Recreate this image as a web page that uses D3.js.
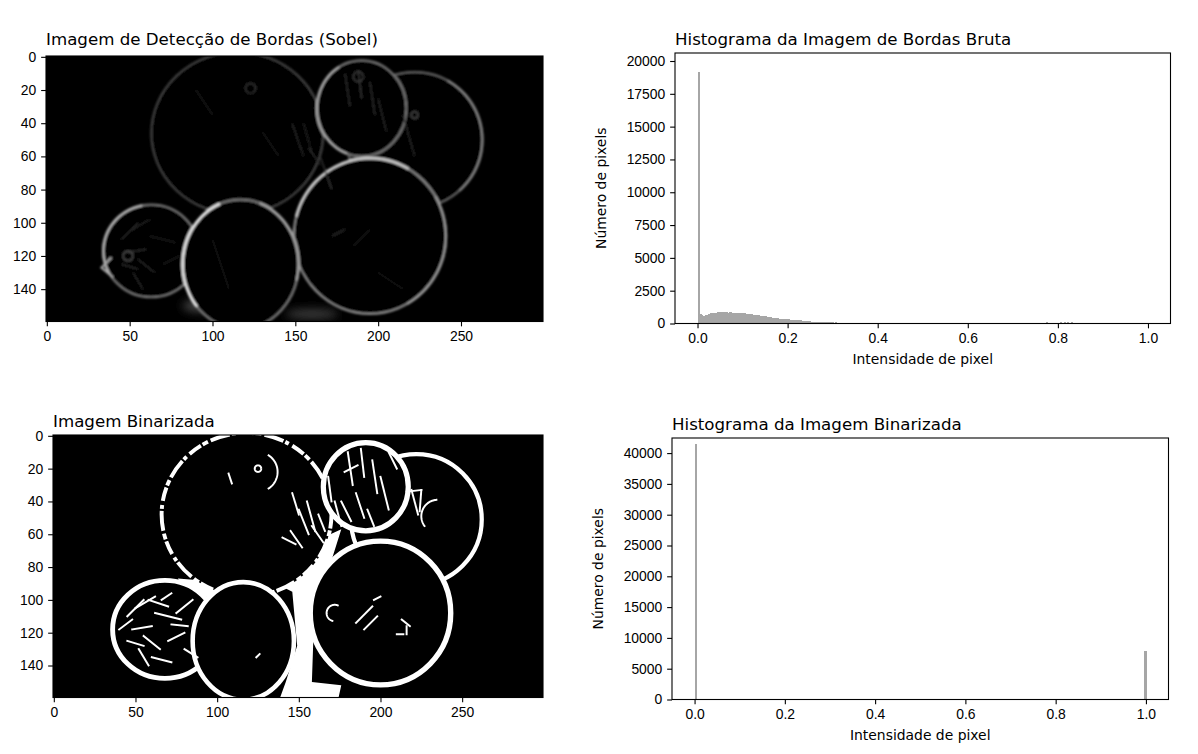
<!DOCTYPE html>
<html>
<head>
<meta charset="utf-8">
<script src="https://cdn.jsdelivr.net/npm/d3@7"></script>
<style>
  body { margin: 0; background: #fff; }
  svg { font-family: "DejaVu Sans", sans-serif; }
  .tick text { font-size: 13.9px; fill: #000; }
  .tick line { stroke: #000; stroke-width: 1.1px; }
</style>
</head>
<body>
<svg id="fig" width="1198" height="754"></svg>
<script>
'use strict';

// tick labels
var imgXTicks = [0, 50, 100, 150, 200, 250];
var imgYTicks = [0, 20, 40, 60, 80, 100, 120, 140];
var histXTicks = [0, 0.2, 0.4, 0.6, 0.8, 1.0];
var edgeYTicks = [0, 2500, 5000, 7500, 10000, 12500, 15000, 17500, 20000];
var binaryYTicks = [0, 5000, 10000, 15000, 20000, 25000, 30000, 35000, 40000];

// histogram of the raw edge image, 256 bins over [0, 1]
var edgeCounts = [
  19200, 700, 620, 600, 610, 640, 700, 800, 810, 820, 830, 840, 840, 845, 840, 845,
  840, 835, 840, 830, 825, 820, 810, 800, 790, 780, 770, 760, 740, 700, 690, 670,
  660, 640, 620, 590, 570, 560, 545, 530, 510, 470, 450, 430, 410, 395, 370, 360,
  350, 340, 330, 320, 270, 260, 250, 245, 240, 235, 230, 220, 175, 170, 165, 160,
  150, 148, 145, 142, 140, 138, 135, 130, 128, 125, 122, 120, 118, 75, 110, 70,
  68, 68, 67, 66, 66, 65, 65, 64, 64, 63, 63, 62, 62, 61, 61, 60,
  60, 60, 59, 59, 58, 58, 58, 57, 57, 56, 56, 56, 55, 55, 55, 54,
  54, 54, 53, 53, 53, 52, 52, 52, 51, 51, 51, 50, 50, 50, 49, 49,
  49, 48, 48, 48, 47, 47, 47, 46, 46, 46, 45, 45, 45, 44, 44, 44,
  43, 43, 43, 42, 42, 42, 41, 41, 41, 40, 40, 40, 39, 39, 39, 38,
  38, 38, 37, 37, 37, 36, 36, 36, 35, 35, 35, 34, 0, 0, 60, 0,
  55, 0, 60, 0, 0, 0, 70, 0, 0, 0, 0, 65, 0, 0, 0, 0,
  0, 0, 75, 0, 70, 0, 80, 0, 0, 0, 0, 0, 0, 0, 90, 0,
  85, 0, 95, 0, 80, 0, 0, 75, 0, 0, 0, 0, 0, 60, 0, 0,
  0, 0, 55, 0, 0, 0, 0, 0, 0, 0, 0, 0, 0, 0, 0, 0,
  50, 0, 0, 0, 0, 0, 0, 0, 0, 0, 0, 0, 0, 0, 0, 0
];

// histogram of the binarized image (only two bins are filled)
var binaryBins = [0, 255];
var binaryCounts = [41500, 7880];

// fruit outlines in image pixels: cx, cy, rx, ry, grey, width  (back to front)
var sobelOutlines = [
  [115, 46, 52, 49, 70, 1.1],
  [222, 50, 41, 41, 105, 1.1],
  [190, 31, 27, 29, 120, 1.2],
  [195, 108, 46, 47, 140, 1.3],
  [63, 117, 29, 28, 120, 1.2],
  [117, 125, 35, 39, 120, 1.3]
];
// brighter stretches of an outline: fruit index, from angle, to angle, grey, width
var sobelHighlights = [
  [5, 140, 250, 235, 1.6],
  [5, -70, 15, 170, 1.4],
  [3, 195, 300, 210, 1.5],
  [3, -30, 60, 160, 1.3],
  [2, 110, 240, 175, 1.3],
  [4, 150, 260, 185, 1.4],
  [1, -60, 50, 140, 1.2]
];
// faint inner texture: x1, y1, x2, y2, grey
var sobelTexture = [
  [45, 110, 55, 100, 45], [50, 105, 62, 98, 40], [62, 108, 78, 112, 35], [48, 118, 60, 116, 50],
  [45, 125, 55, 128, 45], [55, 122, 65, 130, 40], [70, 125, 80, 120, 35], [52, 130, 58, 140, 40],
  [180, 10, 183, 30, 45], [188, 8, 190, 25, 55], [195, 15, 198, 35, 45], [200, 25, 205, 45, 40],
  [148, 40, 155, 60, 40], [155, 40, 160, 58, 35], [158, 55, 165, 65, 45], [165, 60, 172, 80, 55],
  [172, 108, 180, 104, 45], [185, 114, 195, 104, 32], [90, 20, 100, 35, 28], [130, 45, 140, 60, 28],
  [215, 35, 222, 60, 40], [100, 110, 110, 140, 25], [200, 130, 215, 140, 25]
];
// small rings: cx, cy, r, grey
var sobelRings = [[123, 19, 3, 55], [222, 35, 2, 75], [188, 12, 3, 60], [49, 120, 3, 80]];
// soft shading under the fruit: cx, cy, rx, ry, grey
var sobelShadows = [[92, 150, 10, 3.5, 75], [160, 155, 16, 3, 60], [118, 90, 8, 3, 45]];
var sobelTips = [[[39, 121], [33, 127], [40, 133]]];

// binarized image: cx, cy, rx, ry, width, dash
var binaryOutlines = [
  [118, 48, 52, 50, 2.4, '14 2 6 3 20 2 4 4'],
  [222, 51, 40, 40, 2.6, ''],
  [191, 31, 26, 27, 3.2, ''],
  [200, 108, 43, 44, 3.3, ''],
  [68, 118, 32, 30, 3.0, ''],
  [116, 125, 31, 36, 2.8, '']
];
var binaryGaps = [
  [[132, 88], [150, 82], [165, 62], [176, 57], [170, 76], [160, 92], [158, 150], [176, 152], [174, 161], [138, 161], [142, 150], [149, 128], [146, 95]],
  [[76, 87], [100, 89], [110, 94], [102, 101], [90, 97], [80, 95]]
];
var binarySegments = [
  [45, 110, 55, 100], [50, 105, 62, 98], [58, 100, 70, 104], [62, 108, 78, 112], [48, 118, 60, 116],
  [45, 125, 55, 128], [55, 122, 65, 130], [60, 135, 72, 138], [70, 125, 80, 120], [75, 108, 85, 100],
  [52, 130, 58, 140], [40, 118, 48, 112], [66, 100, 72, 96], [80, 130, 88, 135], [72, 115, 82, 116],
  [180, 10, 183, 30], [188, 8, 190, 25], [195, 15, 198, 35], [185, 35, 190, 50], [200, 25, 205, 45],
  [176, 40, 182, 52], [192, 45, 196, 55], [205, 10, 210, 20], [178, 22, 186, 18],
  [219, 33, 223, 48], [216, 34, 225, 33], [225, 33, 224, 46],
  [146, 35, 150, 48], [150, 45, 156, 60], [155, 40, 160, 58], [158, 55, 165, 65], [145, 58, 152, 68],
  [140, 62, 148, 66], [162, 48, 166, 58], [168, 25, 170, 40], [172, 40, 176, 55], [107, 23, 109, 29],
  [185, 114, 195, 104], [190, 118, 198, 110], [196, 100, 200, 98], [213, 112, 218, 116],
  [216, 116, 216, 121], [210, 121, 214, 121], [124, 135, 126, 133]
];
// cx, cy, r, from angle, to angle
var binaryArcs = [[235, 49, 10, 140, 270], [125, 22, 12, -60, 60], [172, 108, 5, 100, 300], [125, 20, 2, 0, 360]];

var svg = d3.select('#fig');
var defs = svg.append('defs');
defs.append('filter').attr('id', 'soft')
  .append('feGaussianBlur').attr('stdDeviation', 0.8);
defs.append('filter').attr('id', 'haze').attr('x', '-50%').attr('y', '-50%')
  .attr('width', '200%').attr('height', '200%')
  .append('feGaussianBlur').attr('stdDeviation', 5);

function grey(v) { return d3.rgb(v, v, v).toString(); }

function title(box, text, base) {
  svg.append('text').attr('x', box.x0).attr('y', base)
    .style('font-size', '16.67px').text(text);
}

function frame(box) {
  svg.append('rect').attr('x', box.x0).attr('y', box.y0)
    .attr('width', box.x1 - box.x0).attr('height', box.y1 - box.y0)
    .attr('fill', 'none').attr('stroke', '#000').attr('stroke-width', 1.1);
}

function imagePanel(box, text, base, id) {
  var x = d3.scaleLinear().domain([-0.5, 299.5]).range([box.x0, box.x1]);
  var y = d3.scaleLinear().domain([-0.5, 159.5]).range([box.y0, box.y1]);
  defs.append('clipPath').attr('id', id).append('rect')
    .attr('x', box.x0).attr('y', box.y0)
    .attr('width', box.x1 - box.x0).attr('height', box.y1 - box.y0);
  var g = svg.append('g').attr('clip-path', 'url(#' + id + ')');
  g.append('rect').attr('x', box.x0).attr('y', box.y0)
    .attr('width', box.x1 - box.x0).attr('height', box.y1 - box.y0).attr('fill', '#000');
  svg.append('g').attr('transform', 'translate(0,' + box.y1 + ')')
    .call(d3.axisBottom(x).tickValues(imgXTicks).tickSize(4.86).tickPadding(4.86).tickSizeOuter(0))
    .call(function(a) { a.select('.domain').remove(); });
  svg.append('g').attr('transform', 'translate(' + box.x0 + ',0)')
    .call(d3.axisLeft(y).tickValues(imgYTicks).tickSize(4.86).tickPadding(4.86).tickSizeOuter(0))
    .call(function(a) { a.select('.domain').remove(); });
  frame(box);
  title(box, text, base);
  return { g: g, x: x, y: y, k: (box.x1 - box.x0) / 300 };
}

function histPanel(box, text, base, ymax, yTicks, bins, counts) {
  var x = d3.scaleLinear().domain([-0.05, 1.05]).range([box.x0, box.x1]);
  var y = d3.scaleLinear().domain([0, ymax]).range([box.y1, box.y0]);
  var data = bins.map(function(b, i) { return { b: b, c: counts[i] }; })
    .filter(function(d) { return d.c > 0; });
  // bars are about 1.8 px wide: draw them unsmoothed and a touch wider so no seams show
  svg.append('g').attr('shape-rendering', 'crispEdges')
    .selectAll('rect').data(data).enter().append('rect')
    .attr('x', function(d) { return x(d.b / 256); })
    .attr('width', function(d) { return x((d.b + 1) / 256) - x(d.b / 256) + 0.6; })
    .attr('y', function(d) { return y(d.c); })
    .attr('height', function(d) { return y(0) - y(d.c); })
    .attr('fill', '#a6a6a6');
  svg.append('g').attr('transform', 'translate(0,' + box.y1 + ')')
    .call(d3.axisBottom(x).tickValues(histXTicks).tickFormat(d3.format('.1f'))
      .tickSize(4.86).tickPadding(4.86).tickSizeOuter(0))
    .call(function(a) { a.select('.domain').remove(); });
  svg.append('g').attr('transform', 'translate(' + box.x0 + ',0)')
    .call(d3.axisLeft(y).tickValues(yTicks).tickFormat(d3.format('d'))
      .tickSize(4.86).tickPadding(4.86).tickSizeOuter(0))
    .call(function(a) { a.select('.domain').remove(); });
  frame(box);
  title(box, text, base);
  svg.append('text').attr('text-anchor', 'middle')
    .attr('x', (box.x0 + box.x1) / 2).attr('y', box.y1 + 40)
    .style('font-size', '13.9px').text('Intensidade de pixel');
  svg.append('text').attr('text-anchor', 'middle')
    .attr('transform', 'translate(' + (box.x0 - 69) + ',' + ((box.y0 + box.y1) / 2) + ') rotate(-90)')
    .style('font-size', '13.9px').text('Número de pixels');
}

function arcLine(ax, cx, cy, rx, ry, a0, a1) {
  var pts = d3.range(a0, a1 + 0.1, 3).map(function(a) {
    var t = a * Math.PI / 180;
    return [cx + rx * Math.cos(t), cy + ry * Math.sin(t)];
  });
  return d3.line().x(function(d) { return ax.x(d[0]); })
    .y(function(d) { return ax.y(d[1]); })(pts);
}

// --- Sobel edge image
var sob = imagePanel({ x0: 46, x1: 543, y0: 56, y1: 321.5 },
                     'Imagem de Detecção de Bordas (Sobel)', 45, 'clipSobel');
sob.g.append('g').attr('filter', 'url(#haze)').selectAll('ellipse')
  .data(sobelShadows).enter().append('ellipse')
  .attr('cx', function(d) { return sob.x(d[0]); }).attr('cy', function(d) { return sob.y(d[1]); })
  .attr('rx', function(d) { return d[2] * sob.k; }).attr('ry', function(d) { return d[3] * sob.k; })
  .attr('fill', function(d) { return grey(d[4]); });
var sg = sob.g.append('g').attr('filter', 'url(#soft)');
sg.selectAll('ellipse.fruit').data(sobelOutlines).enter().append('ellipse')
  .attr('class', 'fruit')
  .attr('cx', function(d) { return sob.x(d[0]); }).attr('cy', function(d) { return sob.y(d[1]); })
  .attr('rx', function(d) { return d[2] * sob.k; }).attr('ry', function(d) { return d[3] * sob.k; })
  .attr('fill', '#000').attr('stroke', function(d) { return grey(d[4]); })
  .attr('stroke-width', function(d) { return d[5] * sob.k; });
sg.selectAll('path.hl').data(sobelHighlights).enter().append('path')
  .attr('class', 'hl')
  .attr('d', function(d) {
    var f = sobelOutlines[d[0]];
    return arcLine(sob, f[0], f[1], f[2], f[3], d[1], d[2]);
  })
  .attr('fill', 'none').attr('stroke', function(d) { return grey(d[3]); })
  .attr('stroke-width', function(d) { return d[4] * sob.k; }).attr('stroke-linecap', 'round');
sg.selectAll('line').data(sobelTexture).enter().append('line')
  .attr('x1', function(d) { return sob.x(d[0]); }).attr('y1', function(d) { return sob.y(d[1]); })
  .attr('x2', function(d) { return sob.x(d[2]); }).attr('y2', function(d) { return sob.y(d[3]); })
  .attr('stroke', function(d) { return grey(d[4]); }).attr('stroke-width', sob.k * 0.8);
sg.selectAll('circle').data(sobelRings).enter().append('circle')
  .attr('cx', function(d) { return sob.x(d[0]); }).attr('cy', function(d) { return sob.y(d[1]); })
  .attr('r', function(d) { return d[2] * sob.k; })
  .attr('fill', 'none').attr('stroke', function(d) { return grey(d[3]); }).attr('stroke-width', sob.k * 0.8);
sg.selectAll('path.tip').data(sobelTips).enter().append('path')
  .attr('class', 'tip')
  .attr('d', d3.line().x(function(d) { return sob.x(d[0]); }).y(function(d) { return sob.y(d[1]); }))
  .attr('fill', 'none').attr('stroke', grey(170)).attr('stroke-width', 1.3 * sob.k);

// --- binarized image
var bin = imagePanel({ x0: 53, x1: 543, y0: 435, y1: 697.5 },
                     'Imagem Binarizada', 427, 'clipBinary');
bin.g.selectAll('path.gap').data(binaryGaps).enter().append('path')
  .attr('class', 'gap')
  .attr('d', function(d) {
    return d3.line().x(function(p) { return bin.x(p[0]); }).y(function(p) { return bin.y(p[1]); })(d) + 'Z';
  })
  .attr('fill', '#fff');
bin.g.selectAll('ellipse').data(binaryOutlines).enter().append('ellipse')
  .attr('cx', function(d) { return bin.x(d[0]); }).attr('cy', function(d) { return bin.y(d[1]); })
  .attr('rx', function(d) { return d[2] * bin.k; }).attr('ry', function(d) { return d[3] * bin.k; })
  .attr('fill', '#000').attr('stroke', '#fff')
  .attr('stroke-width', function(d) { return d[4] * bin.k; })
  .attr('stroke-dasharray', function(d) { return d[5] || null; });
bin.g.selectAll('line').data(binarySegments).enter().append('line')
  .attr('x1', function(d) { return bin.x(d[0]); }).attr('y1', function(d) { return bin.y(d[1]); })
  .attr('x2', function(d) { return bin.x(d[2]); }).attr('y2', function(d) { return bin.y(d[3]); })
  .attr('stroke', '#fff').attr('stroke-width', bin.k * 1.2).attr('stroke-linecap', 'square');
bin.g.selectAll('path.arc').data(binaryArcs).enter().append('path')
  .attr('class', 'arc')
  .attr('d', function(d) { return arcLine(bin, d[0], d[1], d[2], d[2], d[3], d[4]); })
  .attr('fill', 'none').attr('stroke', '#fff').attr('stroke-width', bin.k * 1.2);

// --- histograms
histPanel({ x0: 675, x1: 1170.5, y0: 53, y1: 323.5 }, 'Histograma da Imagem de Bordas Bruta', 45,
          20610, edgeYTicks, d3.range(256), edgeCounts);
histPanel({ x0: 672, x1: 1168.5, y0: 438, y1: 699.5 }, 'Histograma da Imagem Binarizada', 430,
          42450, binaryYTicks, binaryBins, binaryCounts);
</script>
</body>
</html>
